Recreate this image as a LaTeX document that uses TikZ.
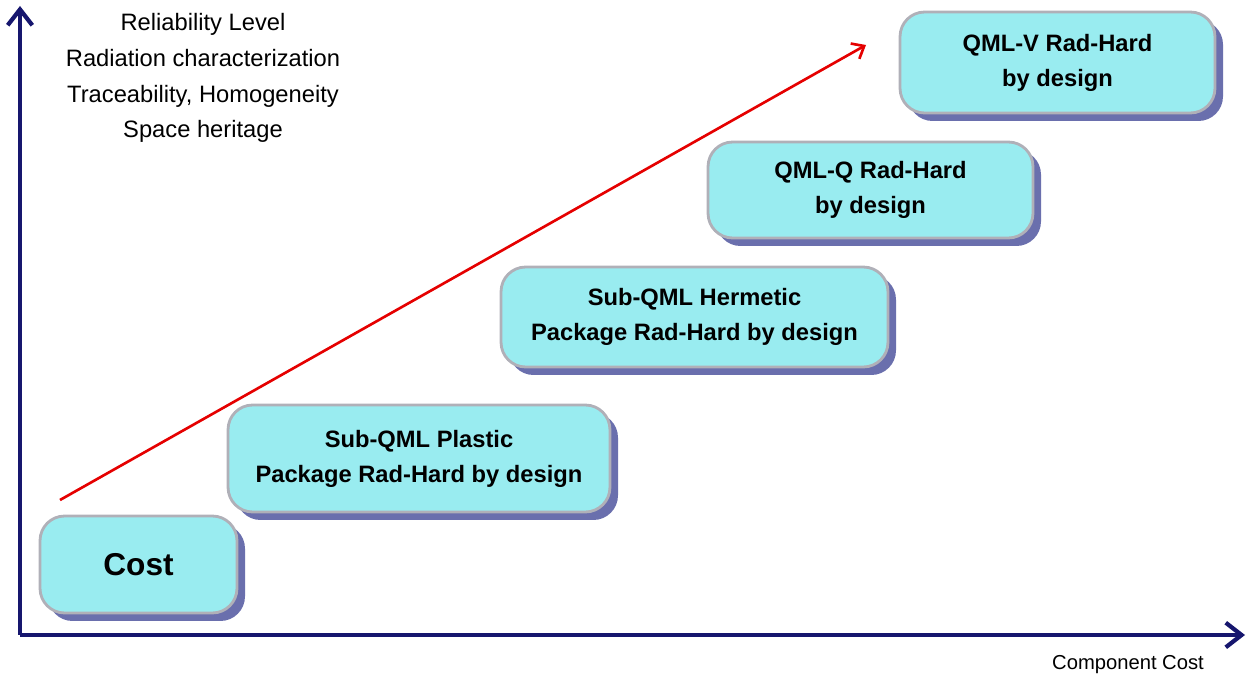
\documentclass[tikz,border=0pt]{standalone}
\usepackage{fontspec}
\setmainfont{Liberation Sans}
\usetikzlibrary{arrows.meta,positioning}

\begin{document}
\begin{tikzpicture}[x=0.02cm, y=-0.02cm]
        \definecolor{axisblue}{RGB}{22,22,110}
        \definecolor{boxcyan}{RGB}{153,236,240}
        \definecolor{boxshadow}{RGB}{106,111,173}
        \definecolor{boxline}{RGB}{176,176,184}
        \tikzset{
            level/.style={draw=boxline, line width=1.6pt, fill=boxcyan, rounded corners=14pt,
                font=\fontsize{13.5}{20}\selectfont\bfseries, align=center, inner sep=0pt},
            lvlshadow/.style={fill=boxshadow, rounded corners=14pt}
        }
        \useasboundingbox (0,0) rectangle (1248,685);

        % Shadows behind the boxes
        \fill[lvlshadow] (48,524) rectangle (245,621);
        \fill[lvlshadow] (236,413) rectangle (618,520);
        \fill[lvlshadow] (509,275) rectangle (896,375);
        \fill[lvlshadow] (716,150) rectangle (1041,246);
        \fill[lvlshadow] (908,20) rectangle (1223,121);

        % Levels
        \node[level, minimum width=3.94cm, minimum height=1.94cm, font=\fontsize{18}{22}\selectfont\bfseries] (cost) at (138.5,564.5) {Cost};
        \node[level, minimum width=7.64cm, minimum height=2.14cm] (plastic) at (419,458.5) {Sub-QML Plastic\\Package Rad-Hard by design};
        \node[level, minimum width=7.74cm, minimum height=2.0cm] (hermetic) at (694.5,317) {Sub-QML Hermetic\\Package Rad-Hard by design};
        \node[level, minimum width=6.5cm, minimum height=1.92cm] (qmlq) at (870.5,190) {QML-Q Rad-Hard\\by design};
        \node[level, minimum width=6.3cm, minimum height=2.02cm] (qmlv) at (1057.5,62.5) {QML-V Rad-Hard\\by design};

        % Axes
        \coordinate (origin) at (20,635);
        \coordinate (ytop) at (20,6);
        \coordinate (xend) at (1245,635);
        \draw[axisblue, line width=2.4pt, -{Straight Barb[length=9pt,width=14pt]}] (origin) -- (ytop);
        \draw[axisblue, line width=2.4pt, -{Straight Barb[length=9pt,width=14pt]}] (origin) -- (xend);

        % Trend arrow
        \coordinate (trendstart) at (60,500);
        \coordinate (trendend) at (866,45);
        \draw[red!90!black, line width=1.5pt, -{Straight Barb[length=6pt,width=10pt]}] (trendstart) -- (trendend);

        % Axis labels
        \node[font=\fontsize{13.5}{20.4}\selectfont, align=center] (ylabel) at (203,78) {Reliability Level\\Radiation characterization\\Traceability, Homogeneity\\Space heritage};
        \node[font=\fontsize{11.5}{14}\selectfont] (xlabel) at (1128,665) {Component Cost};
    \end{tikzpicture}
\end{document}
